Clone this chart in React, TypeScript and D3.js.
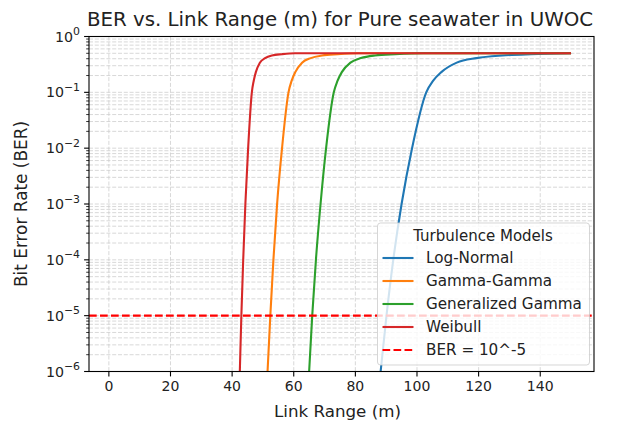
import * as d3 from "d3";
import React from "react";

// link range (m) and BER, one pair of arrays per model
const logNormalRange = [86.5, 88.2, 90.1, 92.3, 95.0, 98.4, 103.0, 105.2, 107.9, 112.9, 119.3, 127.7, 137.0, 150];
const logNormalBer = [1e-7, 1e-6, 1e-5, 1e-4, 1e-3, 1e-2, 1e-1, 0.16, 0.23, 0.34, 0.41, 0.457, 0.482, 0.5];

const gammaGammaRange = [50.7, 51.5, 52.4, 53.4, 54.6, 56.2, 58.3, 59.3, 60.5, 62.7, 65.5, 69.2, 74.3, 81, 150];
const gammaGammaBer = [1e-7, 1e-6, 1e-5, 1e-4, 1e-3, 1e-2, 1e-1, 0.16, 0.23, 0.34, 0.41, 0.457, 0.482, 0.5, 0.5];

const genGammaRange = [64.1, 65.0, 66.0, 67.2, 68.7, 70.5, 73.0, 74.2, 75.6, 78.4, 81.8, 86.4, 93.0, 102, 150];
const genGammaBer = [1e-7, 1e-6, 1e-5, 1e-4, 1e-3, 1e-2, 1e-1, 0.16, 0.23, 0.34, 0.41, 0.457, 0.482, 0.5, 0.5];

const weibullRange = [42.0, 42.5, 43.0, 43.6, 44.3, 45.2, 46.4, 47.0, 47.7, 49.0, 50.7, 52.9, 56.2, 60.4, 150];
const weibullBer = [1e-7, 1e-6, 1e-5, 1e-4, 1e-3, 1e-2, 1e-1, 0.16, 0.23, 0.34, 0.41, 0.457, 0.482, 0.5, 0.5];

const berThreshold = 1e-5;
const xTicks = [0, 20, 40, 60, 80, 100, 120, 140];
const yExponents = [0, -1, -2, -3, -4, -5, -6];

const models = [
  { name: "Log-Normal", color: "#1f77b4", xs: logNormalRange, ys: logNormalBer },
  { name: "Gamma-Gamma", color: "#ff7f0e", xs: gammaGammaRange, ys: gammaGammaBer },
  { name: "Generalized Gamma", color: "#2ca02c", xs: genGammaRange, ys: genGammaBer },
  { name: "Weibull", color: "#d62728", xs: weibullRange, ys: weibullBer },
];

const W = 625;
const H = 425;
const margin = { top: 36.5, right: 31, bottom: 53.5, left: 89 };
const font = "DejaVu Sans, sans-serif";

export default function App() {
  const x = d3
    .scaleLinear()
    .domain([-6.45, 157.45])
    .range([margin.left, W - margin.right]);
  const y = d3
    .scaleLog()
    .domain([1e-6, 1])
    .range([H - margin.bottom, margin.top]);

  const line = d3
    .line<[number, number]>()
    .x((d) => x(d[0]))
    .y((d) => y(d[1]))
    .curve(d3.curveMonotoneX);

  // minor decades 2..9
  const minor: number[] = [];
  for (let e = -6; e < 0; e++) {
    for (let m = 2; m <= 9; m++) minor.push(m * Math.pow(10, e));
  }

  const x0 = margin.left;
  const x1 = W - margin.right;
  const y0 = margin.top;
  const y1 = H - margin.bottom;

  const legX = 377.5;
  const legY = 223;
  const rowH = 23;
  const legendRows = [
    ...models.map((m) => ({ name: m.name, color: m.color, dash: "" })),
    { name: "BER = 10^-5", color: "red", dash: "7.7,3.3" },
  ];

  return (
    <svg
      width={W}
      height={H}
      style={{ position: "absolute", left: 0, top: 0, background: "white" }}
      fontFamily={font}
    >
      <defs>
        <clipPath id="plot">
          <rect x={x0} y={y0} width={x1 - x0} height={y1 - y0} />
        </clipPath>
      </defs>

      {/* grid */}
      <g stroke="#b0b0b0" strokeWidth={0.8} strokeDasharray="4,1.8" opacity={0.6}>
        {minor.map((v, i) => (
          <line key={"m" + i} x1={x0} x2={x1} y1={y(v)} y2={y(v)} />
        ))}
        {yExponents.map((e) => (
          <line key={"M" + e} x1={x0} x2={x1} y1={y(Math.pow(10, e))} y2={y(Math.pow(10, e))} />
        ))}
        {xTicks.map((t) => (
          <line key={"x" + t} x1={x(t)} x2={x(t)} y1={y0} y2={y1} />
        ))}
      </g>

      {/* curves */}
      <g clipPath="url(#plot)">
        {models.map((m) => (
          <path
            key={m.name}
            d={line(m.xs.map((v, i) => [v, m.ys[i]] as [number, number])) || ""}
            fill="none"
            stroke={m.color}
            strokeWidth={2.1}
          />
        ))}
        <line
          x1={x0}
          x2={x1}
          y1={y(berThreshold)}
          y2={y(berThreshold)}
          stroke="red"
          strokeWidth={2.1}
          strokeDasharray="7.7,3.3"
        />
      </g>

      {/* spines */}
      <rect x={x0} y={y0} width={x1 - x0} height={y1 - y0} fill="none" stroke="black" strokeWidth={1.1} />

      {/* x axis */}
      {xTicks.map((t) => (
        <g key={t}>
          <line x1={x(t)} x2={x(t)} y1={y1} y2={y1 + 4.9} stroke="black" strokeWidth={1.1} />
          <text x={x(t)} y={y1 + 19.5} textAnchor="middle" fontSize={14} fill="#222">
            {t}
          </text>
        </g>
      ))}
      <text x={(x0 + x1) / 2 - 4} y={417} textAnchor="middle" fontSize={16.7} fill="#222">
        Link Range (m)
      </text>

      {/* y axis */}
      {minor.map((v, i) => (
        <line key={"mt" + i} x1={x0 - 2.8} x2={x0} y1={y(v)} y2={y(v)} stroke="black" strokeWidth={0.8} />
      ))}
      {yExponents.map((e) => (
        <g key={e}>
          <line
            x1={x0 - 4.9}
            x2={x0}
            y1={y(Math.pow(10, e))}
            y2={y(Math.pow(10, e))}
            stroke="black"
            strokeWidth={1.1}
          />
          <text x={x0 - 9} y={y(Math.pow(10, e)) + 5} textAnchor="end" fontSize={14.2} fill="#222">
            10
            <tspan dy={-6.5} fontSize={10.9}>
              {e === 0 ? "0" : "\u2212" + -e}
            </tspan>
          </text>
        </g>
      ))}
      <text
        transform={`translate(27,${(y0 + y1) / 2}) rotate(-90)`}
        textAnchor="middle"
        fontSize={16.9}
        fill="#222"
      >
        Bit Error Rate (BER)
      </text>

      {/* title */}
      <text x={340} y={26} textAnchor="middle" fontSize={19.8} fill="#222">
        BER vs. Link Range (m) for Pure seawater in UWOC
      </text>

      {/* legend */}
      <g>
        <rect
          x={legX}
          y={legY}
          width={212}
          height={142}
          rx={3}
          fill="white"
          fillOpacity={0.8}
          stroke="#cccccc"
          strokeOpacity={0.8}
        />
        <text x={legX + 105.5} y={legY + 18} textAnchor="middle" fontSize={15} fill="#222">
          Turbulence Models
        </text>
        {legendRows.map((r, i) => {
          const cy = legY + 35 + i * rowH;
          return (
            <g key={r.name}>
              <line
                x1={legX + 5}
                x2={legX + 36}
                y1={cy}
                y2={cy}
                stroke={r.color}
                strokeWidth={2.1}
                strokeDasharray={r.dash || undefined}
              />
              <text x={legX + 48.5} y={cy + 5.4} fontSize={15.2} fill="#222">
                {r.name}
              </text>
            </g>
          );
        })}
      </g>
    </svg>
  );
}
